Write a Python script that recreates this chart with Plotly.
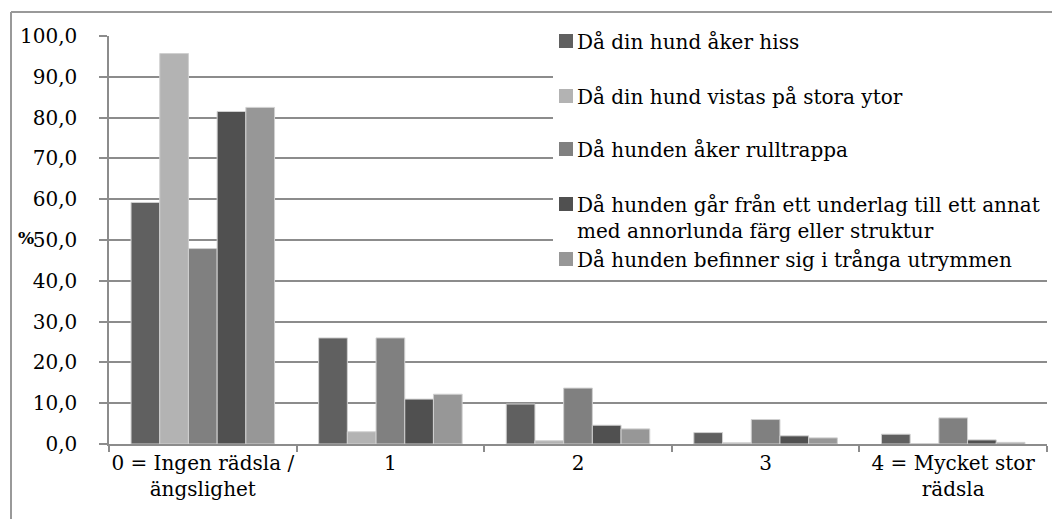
import plotly.graph_objects as go

categories = ["0 = Ingen rädsla /<br>ängslighet", "1", "2", "3", "4 = Mycket stor<br>rädsla"]
series_names = [
    "Då din hund åker hiss",
    "Då din hund vistas på stora ytor",
    "Då hunden åker rulltrappa",
    "Då hunden går från ett underlag till ett annat<br>med annorlunda färg eller struktur",
    "Då hunden befinner sig i trånga utrymmen",
]
hiss = [59.2, 26.0, 9.8, 2.8, 2.4]
stora_ytor = [95.7, 3.0, 0.8, 0.3, 0.1]
rulltrappa = [47.9, 26.0, 13.7, 6.0, 6.4]
underlag = [81.5, 11.0, 4.6, 2.0, 1.0]
trånga = [82.5, 12.2, 3.7, 1.5, 0.4]
y_ticks = [0, 10, 20, 30, 40, 50, 60, 70, 80, 90, 100]

values = [hiss, stora_ytor, rulltrappa, underlag, trånga]
colors = ["#606060", "#b3b3b3", "#808080", "#505050", "#979797"]

FONT = "DejaVu Serif"
FS = 20
GRID = "#8c8c8c"

# the page body has an 8px margin; all screen coords below are shifted by it
OFF = 8
FIG_W, FIG_H = 1060 - OFF, 519 - OFF
# plot-area screen-pixel geometry
L, R, T, B = 109, 1047, 36, 444
W, H = R - L, B - T


def px(x):
    return (x - L) / W


def py(y):
    return (B - y) / H


fig = go.Figure()
for name, vals, col in zip(series_names, values, colors):
    fig.add_trace(go.Bar(
        x=categories, y=vals, name=name,
        marker=dict(color=col, line=dict(color="#d0d0d0", width=1)),
        showlegend=False,
    ))

shapes = []
annotations = []

# outer chart border (top and left visible)
shapes.append(dict(type="line", xref="paper", yref="paper",
                   x0=px(11), x1=px(1062), y0=py(12), y1=py(12),
                   line=dict(color="#999999", width=2), layer="above"))
shapes.append(dict(type="line", xref="paper", yref="paper",
                   x0=px(11), x1=px(11), y0=py(12), y1=py(521),
                   line=dict(color="#999999", width=2), layer="above"))

# legend background (covers gridlines)
shapes.append(dict(type="rect", xref="paper", yref="paper",
                   x0=px(553), x1=px(1062), y0=py(20), y1=py(272),
                   fillcolor="white", line=dict(width=0), layer="above"))

legend_centers = [41, 96, 149, 204, 259]
for i, (name, col) in enumerate(zip(series_names, colors)):
    cy = legend_centers[i]
    shapes.append(dict(type="rect", xref="paper", yref="paper",
                       x0=px(559), x1=px(573), y0=py(cy - 7), y1=py(cy + 7),
                       fillcolor=col, line=dict(width=0), layer="above"))
    annotations.append(dict(
        xref="paper", yref="paper", x=px(575), y=py(cy - 13),
        xanchor="left", yanchor="top", align="left", showarrow=False,
        text=name, font=dict(family=FONT, size=FS, color="black"),
    ))

# y-axis title
annotations.append(dict(
    xref="paper", yref="paper", x=px(26), y=py(238),
    xanchor="center", yanchor="middle", showarrow=False,
    text="<b>%</b>", font=dict(family=FONT, size=17, color="black"),
))

fig.update_layout(
    width=FIG_W, height=FIG_H,
    margin=dict(l=L - OFF, r=FIG_W - (R - OFF), t=T - OFF, b=FIG_H - (B - OFF)),
    paper_bgcolor="white", plot_bgcolor="white",
    barmode="group", bargap=0.235, bargroupgap=0,
    separators=",.",
    font=dict(family=FONT, size=FS, color="black"),
    shapes=shapes, annotations=annotations,
    showlegend=False,
)
fig.update_yaxes(
    range=[0, 100], tickvals=y_ticks, tickformat=".1f",
    showgrid=True, gridcolor=GRID, gridwidth=1.5,
    showline=True, linecolor=GRID, linewidth=1.5,
    ticks="outside", ticklen=8, tickcolor=GRID, tickwidth=1.5,
    zeroline=False, ticklabelstandoff=18, automargin=False,
    tickfont=dict(family=FONT, size=FS, color="black"),
)
fig.update_xaxes(
    type="category", showline=True, linecolor=GRID, linewidth=1.5,
    ticks="outside", tickson="boundaries", ticklen=6, tickcolor=GRID, tickwidth=1.5,
    showgrid=False, tickangle=0, automargin=False, ticklabelstandoff=0,
    tickfont=dict(family=FONT, size=FS, color="black"),
)

fig.write_html("out.html")
